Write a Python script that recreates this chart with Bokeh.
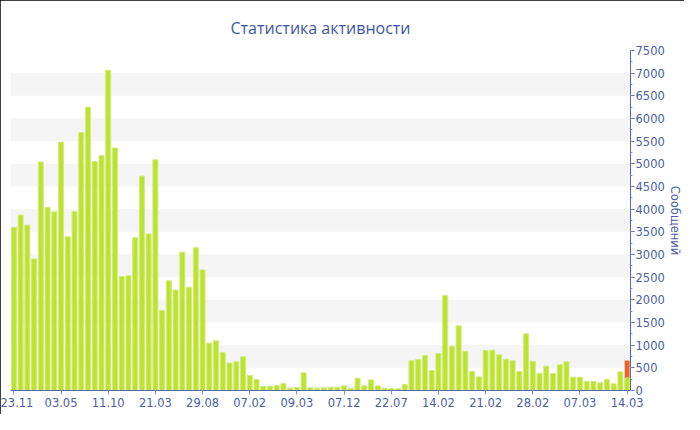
from bokeh.plotting import figure
from bokeh.models import Range1d, FixedTicker, SingleIntervalTicker, ColumnDataSource
from bokeh.embed import file_html
from bokeh.resources import INLINE

# ---- data ----
messages = [3600, 3870, 3650, 2900, 5040, 4040, 3940, 5480, 3390, 3950,
            5690, 6250, 5050, 5180, 7060, 5350, 2515, 2530, 3370, 4730,
            3455, 5090, 1770, 2420, 2215, 3050, 2280, 3150, 2660, 1045,
            1095, 840, 605,
            632, 743, 331, 243, 88, 96, 110, 154, 51, 66,
            390, 59, 51, 59, 74, 74, 103, 44, 272, 103,
            235, 103, 51, 44, 37, 132, 662, 684, 772, 441,
            816, 2096, 978,
            1426, 860, 419, 301, 882, 890, 787, 691, 662, 419,
            1250, 647, 382, 537, 375, 566, 632, 294, 294, 199,
            199, 169, 243, 147, 412, 287]
current = [0] * (len(messages) - 1) + [375]
tick_labels = ["23.11", "03.05", "11.10", "21.03", "29.08", "07.02", "09.03",
               "07.12", "22.07", "14.02", "21.02", "28.02", "07.03", "14.03"]
tick_step = 7

x = list(range(len(messages)))
src = ColumnDataSource(dict(x=x, messages=messages, current=current))

TEXT = "#4a5fa8"
AXIS = "#5068ac"

p = figure(width=684, height=414, output_backend="svg", toolbar_location=None,
           x_range=Range1d(-0.5, len(messages) - 0.5), y_range=Range1d(0, 7500),
           y_axis_location="right", title="Статистика активности",
           min_border_left=10, min_border_top=50, min_border_bottom=24,
           min_border_right=0)
p.styles = {"outline": "1px solid black", "outline-offset": "-1px"}
p.outline_line_color = None

p.title.align = "center"
p.title.text_font = "Open Sans"
p.title.text_font_size = "16px"
p.title.text_font_style = "normal"
p.title.text_color = "#3d57a8"
p.title.standoff = 23

p.vbar_stack(["messages", "current"], x="x", width=0.74, source=src,
             fill_color=["#bde232", "#e8632b"], line_color=["#d3ec7c", None],
             line_width=1)

p.xgrid.visible = False
p.ygrid.grid_line_color = None
p.ygrid.band_fill_color = "#f5f5f5"
p.ygrid.band_fill_alpha = 1.0

xa = p.xaxis[0]
xa.ticker = FixedTicker(ticks=[i * tick_step for i in range(len(tick_labels))])
xa.major_label_overrides = {i * tick_step: lab for i, lab in enumerate(tick_labels)}
xa.minor_tick_line_color = None
xa.major_tick_in = 0
xa.major_tick_out = 4
xa.major_tick_line_color = "#8c98b8"
xa.axis_line_color = AXIS
xa.major_label_text_font = "DejaVu Sans"
xa.major_label_text_font_size = "11.5px"
xa.major_label_text_color = TEXT
xa.major_label_standoff = 3

ya = p.yaxis[0]
ya.ticker = SingleIntervalTicker(interval=500, num_minor_ticks=2)
ya.axis_label = "Сообщений"
ya.axis_label_text_font = "DejaVu Sans"
ya.axis_label_text_font_size = "11.5px"
ya.axis_label_text_font_style = "normal"
ya.axis_label_text_color = TEXT
ya.axis_label_standoff = 0
ya.axis_line_color = AXIS
ya.major_tick_line_color = AXIS
ya.minor_tick_line_color = "#8c98b8"
ya.major_tick_in = 0
ya.major_tick_out = 4
ya.minor_tick_in = 0
ya.minor_tick_out = 2
ya.major_label_text_font = "DejaVu Sans"
ya.major_label_text_font_size = "11.5px"
ya.major_label_text_color = TEXT
ya.major_label_standoff = 1

open("out.html", "w").write(file_html(p, INLINE))
